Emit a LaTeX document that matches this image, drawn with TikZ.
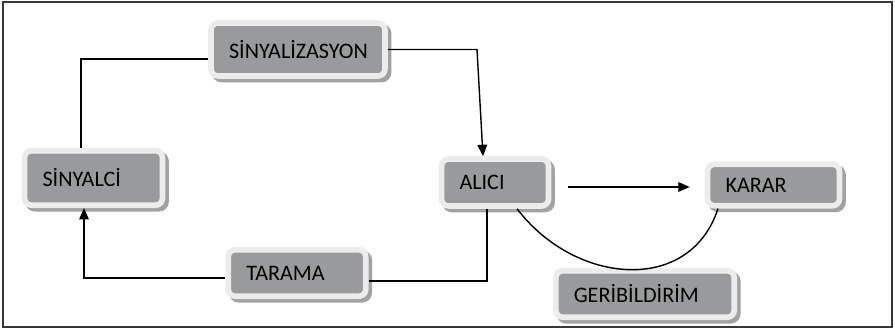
\documentclass[tikz,border=0pt]{standalone}
\usepackage{fontspec}
\setmainfont{Carlito}
\usetikzlibrary{arrows.meta,calc,shadows}

\definecolor{boxfill}{RGB}{152,154,155}
\definecolor{boxrim}{RGB}{236,236,236}
\definecolor{boxshade}{RGB}{160,162,163}
\definecolor{framecol}{RGB}{55,55,55}

\begin{document}
\begin{tikzpicture}[
    x=0.02cm, y=-0.02cm,
    box/.style={rectangle, rounded corners=4pt, draw=boxrim, line width=3.2pt,
        fill=boxfill, inner xsep=0.36cm, align=left, text=black,
        font=\fontsize{12.6}{14}\selectfont,
        drop shadow={shadow xshift=2pt, shadow yshift=-2pt, fill=boxshade,
            draw=boxshade, line width=3.2pt, opacity=1}},
    link/.style={line width=0.8pt},
    arrow/.style={link, -{Triangle[length=6.5pt,width=5.5pt]}}
]
\useasboundingbox (0,0) rectangle (895,330);
\draw[framecol, line width=1pt] (3,2) rectangle (892,327);

% Boxes
\node[box, minimum width=3.48cm, minimum height=1.06cm, text width=2.76cm] (sinyalizasyon) at (298,49.5) {SİNYALİZASYON};
\node[box, minimum width=2.76cm, minimum height=1.09cm, text width=2.04cm] (sinyalci) at (93.5,178) {SİNYALCİ};
\node[box, minimum width=2.14cm, minimum height=0.94cm, text width=1.42cm] (alici) at (495,182.5) {ALICI};
\node[box, minimum width=2.64cm, minimum height=0.83cm, text width=1.92cm] (karar) at (773.5,185) {KARAR};
\node[box, minimum width=2.75cm, minimum height=0.93cm, text width=2.03cm] (tarama) at (297,273) {TARAMA};
\node[box, minimum width=3.57cm, minimum height=0.93cm, text width=2.85cm] (geribildirim) at (645,294) {GERİBİLDİRİM};

% Corners of the connectors
\coordinate (c1) at (81,59);
\coordinate (c2) at (477,49.5);
\coordinate (c5) at (487,281);
\coordinate (c6) at (84,278);

% Connectors
\draw[link] (sinyalizasyon.west |- c1) -- (c1) -- (c1 |- sinyalci.north);
\draw[arrow] (sinyalizasyon.east) -- (c2) -- ($(alici.north)+(-12,0)$);
\draw[arrow, shorten <=0.34cm, shorten >=0.3cm] ($(alici.east)+(0,4.5)$) -- ($(karar.west)+(0,2)$);
\draw[link] (c5 |- alici.south) -- (c5) -- (c5 -| tarama.east);
\draw[arrow] (tarama.west |- c6) -- (c6) -- (c6 |- sinyalci.south);
\draw[link] (alici.310) .. controls (575,285) and (690,295) .. (karar.203);

\end{tikzpicture}
\end{document}
